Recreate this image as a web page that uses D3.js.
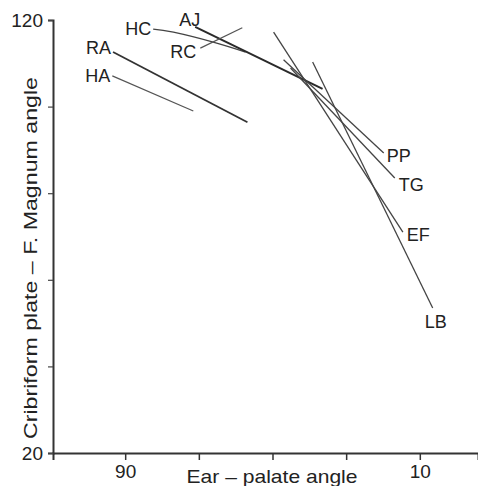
<!DOCTYPE html>
<html>
<head>
<meta charset="utf-8">
<script src="https://cdn.jsdelivr.net/npm/d3@7"></script>
<style>
  body { margin: 0; background: #fff; }
  text { font-family: "Liberation Sans", Arial, sans-serif; fill: #222; }
</style>
</head>
<body>
<div class="canvas"></div>
<script>
const dims = { width: 478, height: 486 };

// x runs backwards: 90 on the left, 10 on the right
const xTicks = [90, 70, 50, 30, 10];
const xTickLabels = ['90', '', '', '', '10'];
const yTicks = [120, 100, 80, 60, 40, 20];
const yTickLabels = ['120', '', '', '', '', '20'];

// one line per specimen: [ear-palate angle, cribriform-F.Magnum angle]
const names = ['HA', 'RA', 'HC', 'AJ', 'RC', 'PP', 'TG', 'EF', 'LB'];
const HA = [[93.5, 107.1], [71.5, 99.0]];
const RA = [[93.3, 112.6], [56.8, 96.4]];
const HC = [[82.4, 117.9], [76.9, 117.2], [66.1, 114.9], [57.3, 112.6]];
const AJ = [[71.0, 118.4], [36.4, 104.1]];
const RC = [[69.6, 113.5], [58.2, 118.2]];
const PP = [[47.0, 110.8], [19.8, 89.3]];
const TG = [[45.1, 108.9], [16.8, 83.5]];
const EF = [[49.7, 117.2], [14.6, 71.0]];
const LB = [[39.1, 110.3], [6.5, 53.5]];
const series = [HA, RA, HC, AJ, RC, PP, TG, EF, LB];

const x = d3.scaleLinear().domain([109.6, -5.8]).range([53, 478]);
const y = d3.scaleLinear().domain([20, 120]).range([453, 20]);

const svg = d3.select('.canvas').append('svg')
  .attr('width', dims.width)
  .attr('height', dims.height);

// styling per line (label side, offsets, weight)
const style = {
  HA: { at: 0, anchor: 'end', dx: -2, dy: 0, w: 1.2, c: '#555' },
  RA: { at: 0, anchor: 'end', dx: -2, dy: -4, w: 1.8, c: '#333' },
  HC: { at: 0, anchor: 'end', dx: -2, dy: 0, w: 1.4, c: '#444' },
  AJ: { at: 0, anchor: 'end', dx: 5, dy: -7, w: 2, c: '#2a2a2a' },
  RC: { at: 0, anchor: 'end', dx: -4, dy: 4, w: 1.2, c: '#555' },
  PP: { at: 1, anchor: 'start', dx: 3, dy: 3, w: 1.3, c: '#444' },
  TG: { at: 1, anchor: 'start', dx: 4, dy: 7, w: 1.3, c: '#444' },
  EF: { at: 1, anchor: 'start', dx: 4, dy: 3, w: 1.3, c: '#444' },
  LB: { at: 1, anchor: 'start', dx: -8, dy: 14, w: 1.3, c: '#444' }
};

const line = d3.line()
  .x(d => x(d[0]))
  .y(d => y(d[1]))
  .curve(d3.curveNatural);

const groups = svg.selectAll('g.spec')
  .data(series.map((pts, i) => ({ name: names[i], pts })))
  .enter()
  .append('g')
    .attr('class', 'spec');

groups.append('path')
  .attr('d', d => line(d.pts))
  .attr('fill', 'none')
  .attr('stroke', d => style[d.name].c)
  .attr('stroke-width', d => style[d.name].w);

groups.append('text')
  .attr('x', d => x(style[d.name].at ? d.pts[d.pts.length - 1][0] : d.pts[0][0]) + style[d.name].dx)
  .attr('y', d => y(style[d.name].at ? d.pts[d.pts.length - 1][1] : d.pts[0][1]) + style[d.name].dy)
  .attr('dy', '0.35em')
  .attr('text-anchor', d => style[d.name].anchor)
  .style('font-size', '18px')
  .text(d => d.name);

// x axis
const xAxis = svg.append('g')
  .attr('transform', `translate(0, ${y(20)})`)
  .call(d3.axisBottom(x).tickValues(xTicks).tickSize(7).tickPadding(5)
    .tickFormat((d, i) => xTickLabels[i]));
xAxis.select('.domain').attr('stroke', '#333').attr('stroke-width', 2);
xAxis.selectAll('.tick line').attr('stroke', '#333').attr('stroke-width', 1.5);
xAxis.selectAll('.tick text').style('font-size', '19px').attr('fill', '#222');

// y axis
const yAxis = svg.append('g')
  .attr('transform', `translate(${x(109.6)}, 0)`)
  .call(d3.axisLeft(y).tickValues(yTicks).tickSize(5).tickPadding(5)
    .tickFormat((d, i) => yTickLabels[i]));
yAxis.select('.domain').attr('stroke', '#333').attr('stroke-width', 2);
yAxis.selectAll('.tick line').attr('stroke', '#444').attr('stroke-width', 1.2);
yAxis.selectAll('.tick text').style('font-size', '19px').attr('fill', '#222');

// axis titles
svg.append('text')
  .attr('x', 272)
  .attr('y', 483)
  .attr('text-anchor', 'middle')
  .attr('textLength', 171)
  .attr('lengthAdjust', 'spacingAndGlyphs')
  .style('font-size', '19px')
  .text('Ear – palate angle');

svg.append('text')
  .attr('transform', `translate(37, 258) rotate(-90)`)
  .attr('text-anchor', 'middle')
  .attr('textLength', 362)
  .attr('lengthAdjust', 'spacingAndGlyphs')
  .style('font-size', '19px')
  .text('Cribriform plate – F. Magnum angle');
</script>
</body>
</html>
